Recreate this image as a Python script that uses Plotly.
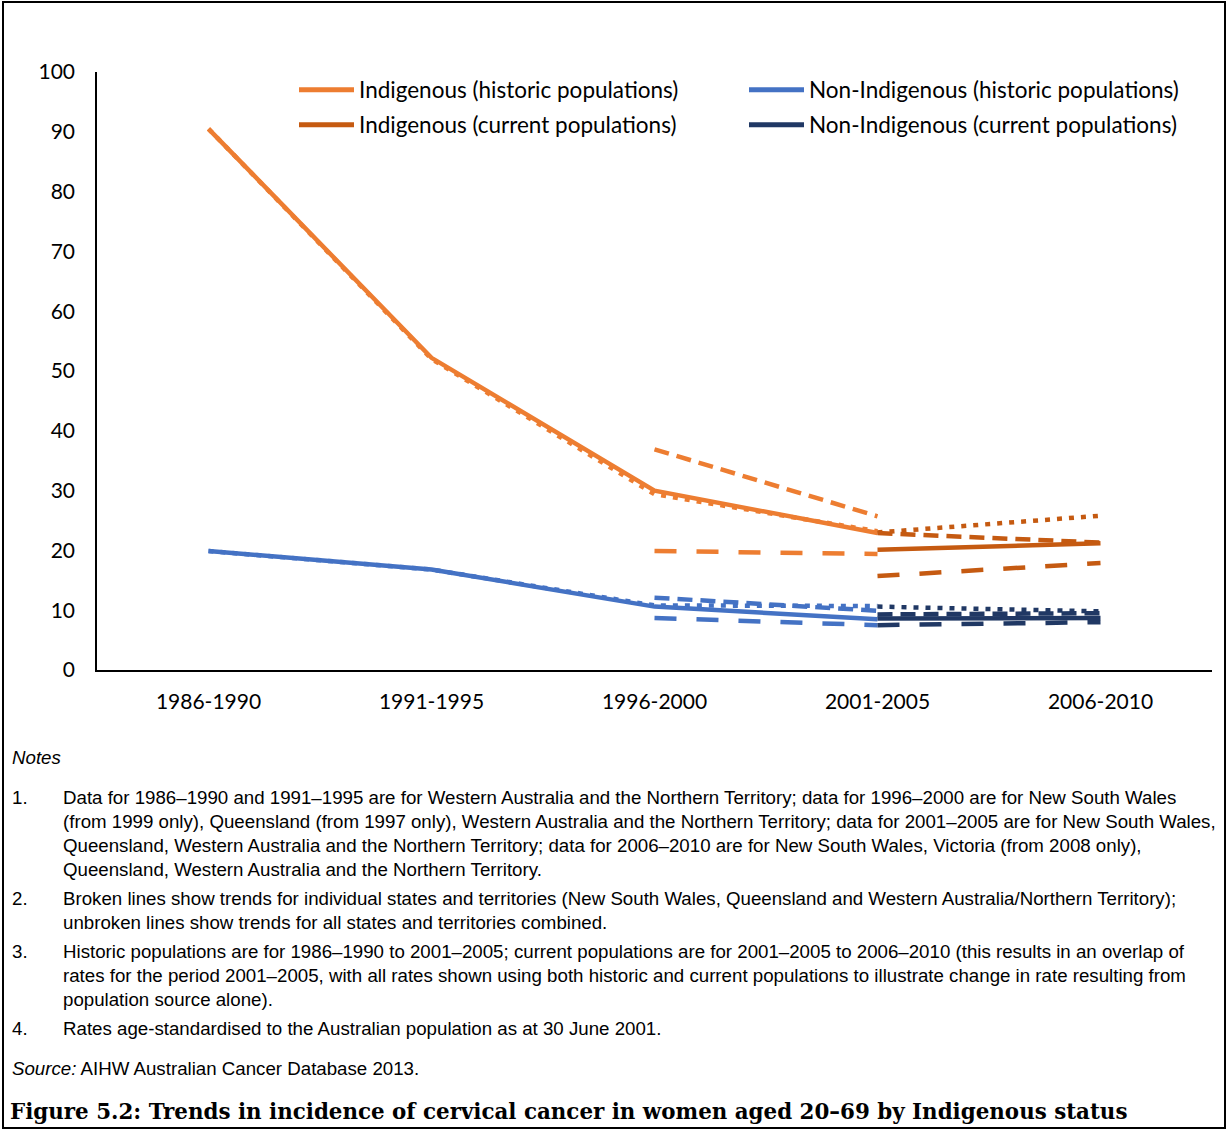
import plotly.graph_objects as go

# Reporting periods on the category axis
periods = ["1986-1990", "1991-1995", "1996-2000", "2001-2005", "2006-2010"]
hist_periods = periods[:4]
curr_periods = periods[3:]

# Indigenous women, historic populations (age-standardised rate per 100,000)
ind_hist_all = [90.5, 52.2, 30.0, 22.9]
ind_hist_dot = [90.5, 52.0, 29.4, 23.2]
ind_hist_dash = [None, None, 36.9, 25.7]
ind_hist_longdash = [None, None, 19.9, 19.4]

# Indigenous women, current populations
ind_curr_all = [20.1, 21.2]
ind_curr_dot = [23.0, 25.8]
ind_curr_dash = [22.9, 21.3]
ind_curr_longdash = [15.7, 17.9]

# Non-Indigenous women, historic populations
non_hist_all = [19.9, 16.8, 10.6, 8.5]
non_hist_dot = [19.9, 16.8, 10.8, 10.7]
non_hist_dash = [None, None, 12.1, 9.9]
non_hist_longdash = [None, None, 8.7, 7.5]

# Non-Indigenous women, current populations
non_curr_all = [8.6, 8.7]
non_curr_dot = [10.6, 9.8]
non_curr_dash = [9.3, 9.5]
non_curr_longdash = [7.5, 8.0]

legend_names = [
    "Indigenous (historic populations)",
    "Non-Indigenous (historic populations)",
    "Indigenous (current populations)",
    "Non-Indigenous (current populations)",
]

C_IND_HIST = "#ED7D31"
C_IND_CURR = "#C55A11"
C_NON_HIST = "#4472C4"
C_NON_CURR = "#203864"

DOT = "5px,7px"
DASH = "15px,8px"
LONGDASH = "22px,20px"

W = 1228
H = 1131
ML, MR, MT, MB = 97, 16, 72, 461
PW = W - ML - MR
PH = H - MT - MB


def px_x(px):
    return (px - ML) / PW


def px_y(py):
    return (H - MB - py) / PH


fig = go.Figure()


def add_group(x, series, color):
    # broken lines first, combined (solid) line on top
    for vals, dash in series:
        fig.add_trace(go.Scatter(
            x=x, y=vals, mode="lines",
            line=dict(color=color, width=4.5, dash=dash),
            showlegend=False, hoverinfo="skip",
            connectgaps=False,
        ))


add_group(hist_periods, [(ind_hist_dot, DOT), (ind_hist_dash, DASH),
                         (ind_hist_longdash, LONGDASH), (ind_hist_all, "solid")], C_IND_HIST)
add_group(hist_periods, [(non_hist_dot, DOT), (non_hist_dash, DASH),
                         (non_hist_longdash, LONGDASH), (non_hist_all, "solid")], C_NON_HIST)
add_group(curr_periods, [(ind_curr_dot, DOT), (ind_curr_dash, DASH),
                         (ind_curr_longdash, LONGDASH), (ind_curr_all, "solid")], C_IND_CURR)
add_group(curr_periods, [(non_curr_dot, DOT), (non_curr_dash, DASH),
                         (non_curr_longdash, LONGDASH), (non_curr_all, "solid")], C_NON_CURR)

# Legend entries: two rows, two per row
legend_colors = [C_IND_HIST, C_NON_HIST, C_IND_CURR, C_NON_CURR]
legend_ids = ["legend", "legend", "legend2", "legend2"]
for name, color, lid in zip(legend_names, legend_colors, legend_ids):
    fig.add_trace(go.Scatter(
        x=[None], y=[None], mode="lines", name=name,
        line=dict(color=color, width=5),
        legend=lid, hoverinfo="skip",
    ))

legend_common = dict(
    orientation="h", xanchor="left", yanchor="middle",
    font=dict(family="Lato", size=22.5, color="#000000"),
    bgcolor="rgba(0,0,0,0)", entrywidth=380, entrywidthmode="pixels",
    itemwidth=55, borderwidth=0,
)

annotations = []


def note(text, px, py, size=18.7, family="Liberation Sans", color="#000000"):
    annotations.append(dict(
        text=text, x=px_x(px), y=px_y(py), xref="paper", yref="paper",
        xanchor="left", yanchor="middle", showarrow=False,
        font=dict(family=family, size=size, color=color), align="left",
    ))


note("<i>Notes</i>", 10, 757)
numbered = [
    ("1.", [(797, "Data for 1986–1990 and 1991–1995 are for Western Australia and the Northern Territory; data for 1996–2000 are for New South Wales"),
            (821, "(from 1999 only), Queensland (from 1997 only), Western Australia and the Northern Territory; data for 2001–2005 are for New South Wales,"),
            (845, "Queensland, Western Australia and the Northern Territory; data for 2006–2010 are for New South Wales, Victoria (from 2008 only),"),
            (869, "Queensland, Western Australia and the Northern Territory.")]),
    ("2.", [(898, "Broken lines show trends for individual states and territories (New South Wales, Queensland and Western Australia/Northern Territory);"),
            (922, "unbroken lines show trends for all states and territories combined.")]),
    ("3.", [(951, "Historic populations are for 1986–1990 to 2001–2005; current populations are for 2001–2005 to 2006–2010 (this results in an overlap of"),
            (975, "rates for the period 2001–2005, with all rates shown using both historic and current populations to illustrate change in rate resulting from"),
            (999, "population source alone).")]),
    ("4.", [(1028, "Rates age-standardised to the Australian population as at 30 June 2001.")]),
]
for num, lines in numbered:
    note(num, 10, lines[0][0])
    for py, txt in lines:
        note(txt, 61, py)

note("<i>Source:</i> AIHW Australian Cancer Database 2013.", 10, 1068)
note("<b>Figure 5.2: Trends in incidence of cervical cancer in women aged 20–69 by Indigenous status</b>",
     8, 1111, size=21.4, family="DejaVu Serif")

fig.update_layout(
    width=W, height=H,
    margin=dict(l=ML, r=MR, t=MT, b=MB),
    paper_bgcolor="#FFFFFF", plot_bgcolor="#FFFFFF",
    showlegend=True,
    legend=dict(x=px_x(294), y=px_y(90), **legend_common),
    legend2=dict(x=px_x(294), y=px_y(125), **legend_common),
    xaxis=dict(
        type="category", categoryorder="array", categoryarray=periods,
        range=[-0.5, 4.5], showgrid=False, zeroline=False,
        showline=True, linecolor="#000000", linewidth=1.5, ticks="",
        tickfont=dict(family="Lato", size=21, color="#000000"),
        ticklabelstandoff=12,
    ),
    yaxis=dict(
        range=[0, 100], dtick=10, showgrid=False, zeroline=False,
        showline=True, linecolor="#000000", linewidth=1.5, ticks="",
        tickfont=dict(family="Lato", size=21, color="#000000"),
        ticklabelstandoff=16,
    ),
    annotations=annotations,
    shapes=[dict(
        type="rect", xref="paper", yref="paper",
        x0=px_x(3), x1=px_x(1225), y0=px_y(1128), y1=px_y(2),
        line=dict(color="#000000", width=2), fillcolor="rgba(0,0,0,0)",
        layer="below",
    )],
)

fig.write_html("out.html")
